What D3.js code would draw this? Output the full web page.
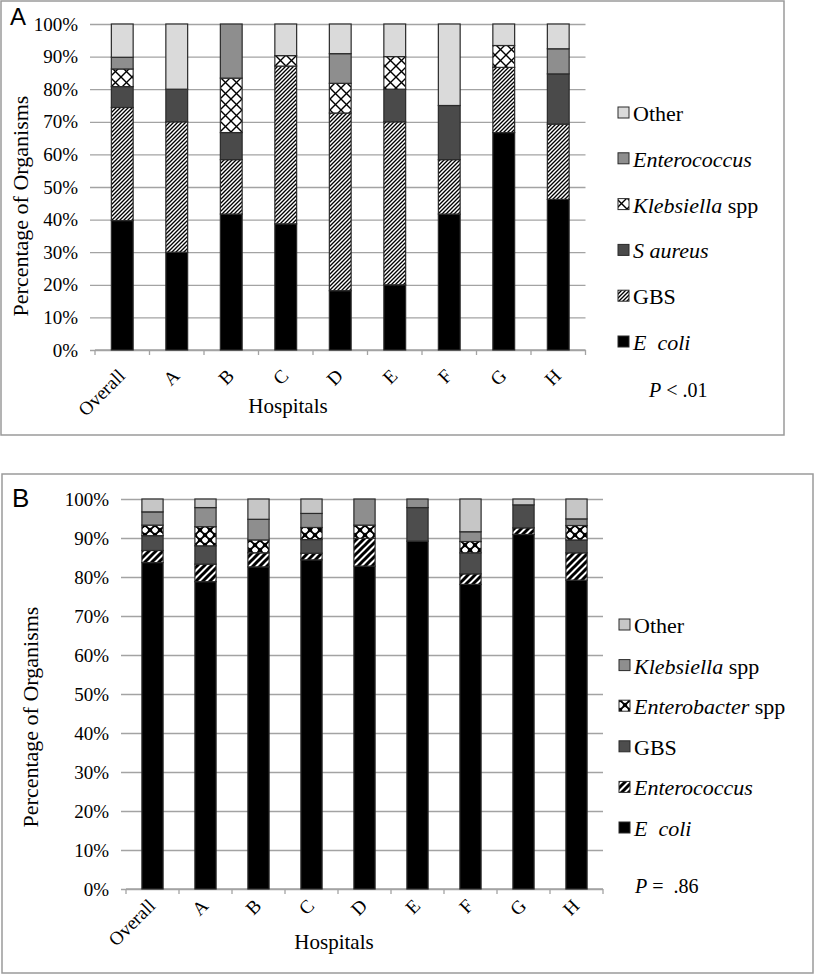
<!DOCTYPE html>
<html>
<head>
<meta charset="utf-8">
<script src="https://cdn.jsdelivr.net/npm/d3@7"></script>
<style>
  body { margin: 0; background: #fff; }
</style>
</head>
<body>
<div id="chart"></div>
<script>
// categories
var hospitals = ["Overall", "A", "B", "C", "D", "E", "F", "G", "H"];
var yTicks = [0, 10, 20, 30, 40, 50, 60, 70, 80, 90, 100];

// panel A series (percent of organisms), bottom to top
var aEcoli        = [39.7, 30, 41.7, 38.7, 18.2, 20, 41.7, 66.7, 46.2];
var aGBS          = [34.7, 40, 16.7, 48.4, 54.5, 50, 16.7, 20.0, 23.1];
var aSaureus      = [ 6.4, 10,  8.3,  0,    0,   10, 16.6,  0,   15.4];
var aKlebsiella   = [ 5.4,  0, 16.7,  3.2,  9.1, 10,  0,    6.7,  0];
var aEnterococcus = [ 3.6,  0, 16.6,  0,    9.1,  0,  0,    0,    7.7];
var aOther        = [10.2, 20,  0,    9.7,  9.1, 10, 25,    6.6,  7.6];

// panel B series, bottom to top
var bEcoli        = [83.7, 78.8, 82.6, 84.4, 82.8, 89.2, 78.1, 90.9, 79.2];
var bEnterococcus = [ 3.1,  4.5,  3.6,  1.7,  7.1,  0,    2.7,  1.7,  7.0];
var bGBS          = [ 3.8,  4.7,  0,    3.5,  0,    8.6,  5.4,  5.9,  3.3];
var bEnterobacter = [ 2.7,  4.9,  3.3,  3.1,  3.4,  0,    2.9,  0,    3.7];
var bKlebsiella   = [ 3.4,  4.9,  5.3,  3.6,  6.7,  2.2,  2.5,  0,    1.7];
var bOther        = [ 3.3,  2.2,  5.2,  3.7,  0,    0,    8.4,  1.5,  5.1];

// legend labels: [text, italic]
var aLabels = {
  ecoli: [["E\u00a0 coli", true]],
  gbs: [["GBS", false]],
  saureus: [["S aureus", true]],
  kleb: [["Klebsiella", true], [" spp", false]],
  entero: [["Enterococcus", true]],
  other: [["Other", false]]
};
var bLabels = {
  ecoli: [["E\u00a0 coli", true]],
  entero: [["Enterococcus", true]],
  gbs: [["GBS", false]],
  enterob: [["Enterobacter", true], [" spp", false]],
  kleb: [["Klebsiella", true], [" spp", false]],
  other: [["Other", false]]
};

var SERIF = "'Liberation Serif', 'Times New Roman', serif";

var svg = d3.select("#chart").append("svg")
    .attr("width", 820)
    .attr("height", 975)
    .style("font-family", SERIF);

// fill patterns
var defs = svg.append("defs");

function hatch(id, size, width, cross, dots) {
  var p = defs.append("pattern")
      .attr("id", id)
      .attr("patternUnits", "userSpaceOnUse")
      .attr("width", size).attr("height", size);
  p.append("rect").attr("width", size).attr("height", size).attr("fill", "#fff");
  var d = "M0," + size + " L" + size + ",0 M" + (-size) + "," + size + " L" + size + "," + (-size) +
          " M0," + (2 * size) + " L" + (2 * size) + ",0";
  p.append("path").attr("d", d).attr("stroke", "#000").attr("stroke-width", width);
  if (cross) {
    var d2 = "M0,0 L" + size + "," + size + " M" + (-size) + ",0 L" + size + "," + (2 * size) +
             " M0," + (-size) + " L" + (2 * size) + "," + size;
    p.append("path").attr("d", d2).attr("stroke", "#000").attr("stroke-width", width);
  }
  if (dots) {
    [[size / 2, 0], [0, size / 2], [size, size / 2], [size / 2, size]].forEach(function (c) {
      p.append("circle").attr("cx", c[0]).attr("cy", c[1]).attr("r", dots).attr("fill", "#fff");
    });
  }
}
hatch("aGbsPat", 4, 1.35, false);
hatch("aKlebPat", 11, 1.4, true);
hatch("bEnteroPat", 7, 3, false);
hatch("bEnterobPat", 10, 2.6, true, 2.6);

function drawPanel(cfg) {
  var g = svg.append("g");

  g.append("rect")
      .attr("x", cfg.box[0]).attr("y", cfg.box[1])
      .attr("width", cfg.box[2]).attr("height", cfg.box[3])
      .attr("fill", "none").attr("stroke", "#9a9a9a").attr("stroke-width", 1.5);

  g.append("text")
      .attr("x", cfg.letterPos[0]).attr("y", cfg.letterPos[1])
      .style("font-family", "'Liberation Sans', Arial, sans-serif")
      .style("font-size", cfg.letterSize + "px")
      .text(cfg.letter);

  var x = d3.scaleBand()
      .domain(hospitals)
      .range([cfg.left, cfg.right])
      .paddingInner(0.6)
      .paddingOuter(0.3);

  var y = d3.scaleLinear()
      .domain([0, 100])
      .range([cfg.bottom, cfg.top]);

  // gridlines + y labels
  var yAxis = d3.axisLeft(y)
      .tickValues(yTicks)
      .tickSize(-(cfg.right - cfg.left) - 5)
      .tickPadding(12)
      .tickFormat(function (d) { return d + "%"; });

  var ya = g.append("g")
      .attr("transform", "translate(" + (cfg.left - 5) + ",0)")
      .call(yAxis)
      .attr("font-family", SERIF);
  ya.select(".domain").remove();
  ya.selectAll("line").attr("stroke", "#a3a3a3").attr("stroke-width", 1.3).attr("x1", 0)
      .attr("x2", cfg.right - cfg.left + 5);
  ya.selectAll("text")
      .style("font-family", SERIF)
      .style("font-size", "19px")
      .attr("fill", "#000");

  // bottom axis with ticks at band boundaries
  var step = x.step();
  var bounds = d3.range(hospitals.length + 1).map(function (i) { return cfg.left + i * step; });
  g.append("line")
      .attr("x1", cfg.left).attr("x2", cfg.right)
      .attr("y1", cfg.bottom).attr("y2", cfg.bottom)
      .attr("stroke", "#a3a3a3").attr("stroke-width", 1.3);
  g.selectAll(".btick").data(bounds).enter().append("line")
      .attr("x1", function (d) { return d; }).attr("x2", function (d) { return d; })
      .attr("y1", cfg.bottom).attr("y2", cfg.bottom + 5)
      .attr("stroke", "#a3a3a3").attr("stroke-width", 1.3);

  // stacked bars
  var rows = hospitals.map(function (h, i) {
    var r = { name: h };
    cfg.keys.forEach(function (k, j) { r[k] = cfg.series[j][i]; });
    return r;
  });
  var stacked = d3.stack().keys(cfg.keys)(rows);

  var layer = g.selectAll(".layer").data(stacked).enter().append("g")
      .attr("fill", function (d, i) { return cfg.fills[i]; });

  layer.selectAll("rect")
      .data(function (d) { return d.filter(function (s) { return s[1] - s[0] > 0; }); })
      .enter().append("rect")
      .attr("x", function (d) { return x(d.data.name); })
      .attr("width", x.bandwidth())
      .attr("y", function (d) { return y(d[1]); })
      .attr("height", function (d) { return y(d[0]) - y(d[1]); })
      .attr("stroke", "#2a2a2a")
      .attr("stroke-width", 1.2);

  // x labels, rotated
  g.selectAll(".xl").data(hospitals).enter().append("text")
      .attr("text-anchor", "end")
      .style("font-family", SERIF)
      .style("font-size", "19px")
      .attr("transform", function (d) {
        return "translate(" + (x(d) + x.bandwidth() / 2 + 4) + "," + (cfg.bottom + cfg.xLabelDy) + ") rotate(-45)";
      })
      .text(function (d) { return d; });

  g.append("text")
      .attr("x", cfg.xTitle[0]).attr("y", cfg.xTitle[1])
      .attr("text-anchor", "middle")
      .style("font-family", SERIF)
      .style("font-size", "21px")
      .text("Hospitals");

  g.append("text")
      .attr("text-anchor", "middle")
      .attr("transform", "translate(" + cfg.yTitle[0] + "," + cfg.yTitle[1] + ") rotate(-90)")
      .style("font-family", SERIF)
      .style("font-size", "22px")
      .text("Percentage of Organisms");

  // legend, top entry first
  var order = cfg.keys.slice().reverse();
  var fillsRev = cfg.fills.slice().reverse();
  order.forEach(function (k, i) {
    var by = cfg.legendY + i * cfg.legendStep;
    g.append("rect")
        .attr("x", cfg.legendX).attr("y", by - 14)
        .attr("width", 11).attr("height", 11)
        .attr("fill", fillsRev[i])
        .attr("stroke", "#2a2a2a").attr("stroke-width", 1);
    var t = g.append("text")
        .attr("x", cfg.legendX + 15).attr("y", by)
        .style("font-family", SERIF)
        .style("font-size", "22px");
    cfg.labels[k].forEach(function (part) {
      t.append("tspan")
          .style("font-style", part[1] ? "italic" : "normal")
          .text(part[0]);
    });
  });

  var pt = g.append("text")
      .attr("x", cfg.pPos[0]).attr("y", cfg.pPos[1])
      .style("font-family", SERIF)
      .style("font-size", "20px");
  pt.append("tspan").style("font-style", "italic").text("P");
  pt.append("tspan").text(cfg.pText);
}

drawPanel({
  box: [1, 1, 783, 434],
  letter: "A", letterPos: [10, 25], letterSize: 24,
  left: 95, right: 585.5, top: 24, bottom: 350,
  keys: ["ecoli", "gbs", "saureus", "kleb", "entero", "other"],
  series: [aEcoli, aGBS, aSaureus, aKlebsiella, aEnterococcus, aOther],
  fills: ["#000", "url(#aGbsPat)", "#4a4a4a", "url(#aKlebPat)", "#8e8e8e", "#dadada"],
  labels: aLabels,
  xLabelDy: 27,
  xTitle: [288, 413],
  yTitle: [28, 206],
  legendX: 618, legendY: 121, legendStep: 45.8,
  pPos: [649, 397], pText: " < .01"
});

drawPanel({
  box: [2, 474, 811, 499],
  letter: "B", letterPos: [12, 507], letterSize: 26,
  left: 126, right: 603, top: 499, bottom: 889,
  keys: ["ecoli", "entero", "gbs", "enterob", "kleb", "other"],
  series: [bEcoli, bEnterococcus, bGBS, bEnterobacter, bKlebsiella, bOther],
  fills: ["#000", "url(#bEnteroPat)", "#4d4d4d", "url(#bEnterobPat)", "#8e8e8e", "#c6c6c6"],
  labels: bLabels,
  xLabelDy: 18,
  xTitle: [334, 949],
  yTitle: [38, 717],
  legendX: 619, legendY: 633, legendStep: 40.6,
  pPos: [635, 893], pText: " =\u00a0 .86"
});
</script>
</body>
</html>
